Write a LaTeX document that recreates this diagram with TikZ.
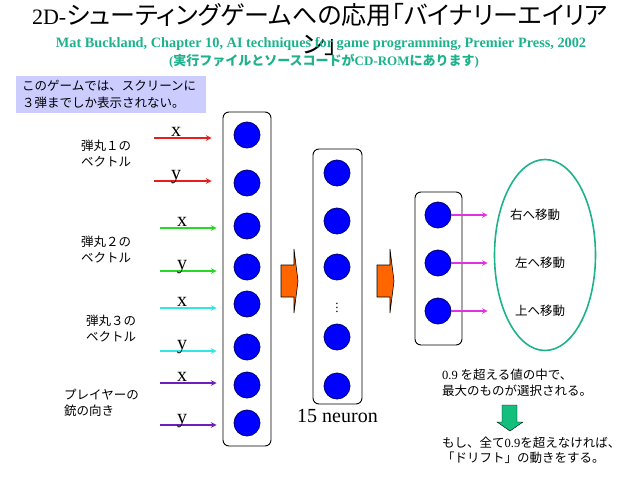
\documentclass[tikz,border=0pt]{standalone}
\usepackage{fontspec}
\setmainfont{Liberation Serif}
\newfontfamily\jp{Noto Sans CJK JP}
\newfontfamily\jptitle[RawFeature=+palt]{Noto Sans CJK JP}
\usetikzlibrary{positioning,fit,arrows,calc,shapes.geometric}

\definecolor{refteal}{RGB}{30,178,140}
\definecolor{notebg}{RGB}{204,204,255}
\definecolor{arrred}{RGB}{230,30,30}
\definecolor{arrgreen}{RGB}{40,215,40}
\definecolor{arrcyan}{RGB}{50,230,230}
\definecolor{arrpurple}{RGB}{110,30,190}
\definecolor{arrmag}{RGB}{225,50,225}
\definecolor{blockorange}{RGB}{255,102,0}
\definecolor{downgreen}{RGB}{20,190,125}

\begin{document}
\begin{tikzpicture}[x=1pt, y=-1pt,
    neuron/.style={circle, fill=blue, draw=blue!45!black, line width=0.8pt, minimum size=26pt, inner sep=0pt},
    col/.style={draw, line width=0.9pt, rounded corners=6pt, inner sep=0pt},
    lbl/.style={font=\jp\fontsize{12.5}{16}\selectfont, align=left, inner sep=0pt},
    xy/.style={font=\fontsize{20}{20}\selectfont, anchor=base, inner sep=0pt},
    arr/.style={-stealth, line width=1.5pt},
    blockarr/.style={fill=blockorange, draw=black, line width=0.6pt},
    downarr/.style={fill=downgreen}
]
\useasboundingbox (0,0) rectangle (638,479);

% title and reference
\node[font=\fontsize{22}{26}\selectfont] (title) at (320,15)
    {2D-{\jptitle\fontsize{25}{26}\selectfont シューティングゲームへの応用「バイナリーエイリア}};
\node[font=\jptitle\fontsize{25}{26}\selectfont] (title2) at (320,45) {ン」};
\node[font=\bfseries\fontsize{14.3}{16}\selectfont, text=refteal] (book) at (321,44)
    {Mat Buckland, Chapter 10, AI techniques for game programming, Premier Press, 2002};
\node[font=\bfseries\fontsize{13}{16}\selectfont, text=refteal] (cdrom) at (324,61)
    {({\jp 実行ファイルとソースコードが}CD-ROM{\jp にあります})};

\node[fill=notebg, anchor=north west, minimum width=190pt, minimum height=37pt,
      text width=178pt, inner xsep=6pt, align=left,
      font=\jp\fontsize{12.5}{17}\selectfont] (note) at (16,76)
    {このゲームでは、スクリーンに\\３弾までしか表示されない。};

% columns
\node[col, fit={(223,112) (271,446)}] (inbox) {};
\node[col, fit={(313,149) (362,404)}] (hidbox) {};
\node[col, fit={(415,192) (462,345)}] (outbox) {};

\foreach \y [count=\i] in {135,183,226,267,304,347,385,423}
    \node[neuron] (i\i) at (247,\y) {};
\foreach \y [count=\i] in {173,221,267,337,386}
    \node[neuron] (h\i) at (337,\y) {};
\node[font=\fontsize{13}{13}\selectfont, inner sep=0pt] (hdots) at (337,305) {$\vdots$};
\foreach \y [count=\i] in {215,263,311}
    \node[neuron] (o\i) at (438,\y) {};

\node[font=\fontsize{20}{20}\selectfont, inner sep=0pt, below=5pt of hidbox] (hidnum) {15 neuron};

% inputs
\foreach \n/\y/\c/\s/\sh/\t in {1/138/arrred/154/11/x, 2/181/arrred/154/11/y,
        3/228/arrgreen/160/6/x, 4/271/arrgreen/160/6/y,
        5/308/arrcyan/160/6/x, 6/351/arrcyan/160/6/y,
        7/383/arrpurple/160/6/x, 8/425/arrpurple/160/6/y} {
    \coordinate (a\n) at (\s,\y);
    \draw[arr, \c, shorten >=\sh pt] (a\n) -- (a\n -| inbox.west);
    \node[xy] (l\n) at ([xshift=22pt, yshift=2pt]a\n) {\t};
}
\node[lbl, anchor=west] (bul1) at (81,154) {弾丸１の\\ベクトル};
\node[lbl, anchor=west] (bul2) at (81,250) {弾丸２の\\ベクトル};
\node[lbl, anchor=west] (bul3) at (86,329) {弾丸３の\\ベクトル};
\node[lbl, anchor=west] (gun) at (64,403) {プレイヤーの\\銃の向き};

% block arrows between layers
\foreach \x in {281,377}
    \draw[blockarr] (\x,265) -- ++(13,0) -- ++(0,-16) -- ++(4,32) -- ++(-4,32)
        -- ++(0,-16) -- ++(-13,0) -- cycle;

% outputs
\node[draw=refteal, line width=1.6pt, ellipse, minimum width=101pt, minimum height=191pt]
    (act) at (545,255) {};
\node[lbl] (mright) at (535,215) {右へ移動};
\node[lbl] (mleft) at (540,263) {左へ移動};
\node[lbl] (mup) at (540,311) {上へ移動};
\foreach \i in {1,2,3}
    \draw[arr, arrmag, shorten >=6pt] (o\i) -- (o\i -| act.west);

\node[lbl, anchor=west] (sel) at (442,383)
    {{\rmfamily 0.9} を超える値の中で、\\最大のものが選択される。};
\draw[downarr] (502,405) -- (517,405) -- (517,422) -- (523,422) -- (510,431)
    -- (497,422) -- (502,422) -- cycle;
\node[lbl, anchor=west, font=\jp\fontsize{12.5}{15}\selectfont] (drift) at (442,450)
    {もし、全て{\rmfamily 0.9}を超えなければ、\\「ドリフト」の動きをする。};
\end{tikzpicture}
\end{document}
